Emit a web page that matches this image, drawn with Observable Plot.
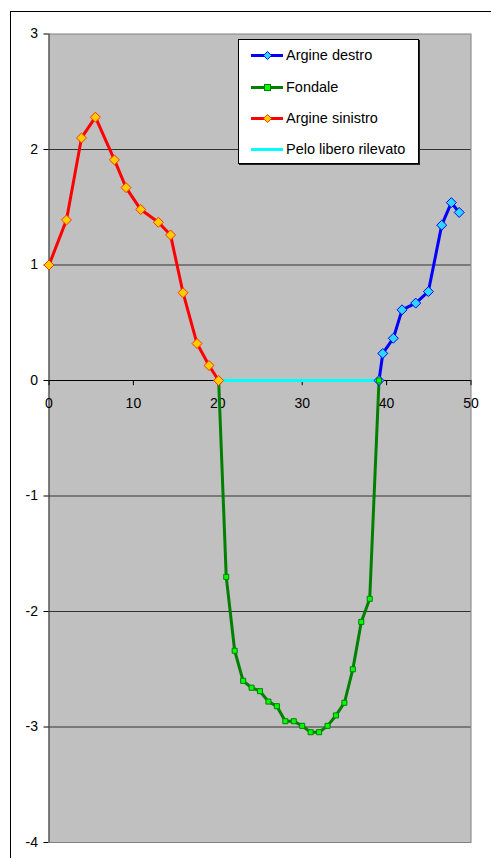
<!DOCTYPE html>
<html>
<head>
<meta charset="utf-8">
<script src="https://cdn.jsdelivr.net/npm/d3@7"></script>
<script src="https://cdn.jsdelivr.net/npm/@observablehq/plot@0.6"></script>
<style>
  html, body { margin: 0; padding: 0; background: #fff; }
  #wrap { position: relative; width: 491px; height: 858px; overflow: hidden; font-family: "Liberation Sans", Arial, sans-serif; }
  #outer { position: absolute; left: 10px; top: 11px; width: 500px; height: 900px; border-left: 1.5px solid #000; border-top: 1.5px solid #000; box-sizing: border-box; pointer-events: none; }
  #chart { position: absolute; left: 0; top: 0; }
  #legend { position: absolute; left: 238px; top: 39px; width: 181px; height: 125px; background: #fff; border: 1px solid #000; box-shadow: 1px 1px 0 #222; box-sizing: border-box; font-size: 14.5px; color: #000; }
  .row { position: absolute; left: 12px; height: 20px; display: flex; align-items: center; white-space: nowrap; }
  .row svg { margin-right: 2px; }
</style>
</head>
<body>
<div id="wrap">
  <div id="outer"></div>
  <div id="chart"></div>
  <div id="legend"></div>
</div>
<script>
// Argine sinistro
const sinX = [0, 2.07, 3.85, 5.5, 7.75, 9.13, 10.87, 12.96, 14.4, 15.88, 17.54, 18.96, 20.1];
const sinY = [1.0, 1.39, 2.10, 2.28, 1.91, 1.67, 1.48, 1.37, 1.26, 0.76, 0.32, 0.13, 0];
// Fondale
const fonX = [20.1, 21, 22, 23, 24, 25, 26, 27, 28, 29, 30, 31, 32, 33, 34, 35, 36, 37, 38, 39.1];
const fonY = [0, -1.70, -2.34, -2.60, -2.66, -2.69, -2.78, -2.82, -2.95, -2.95, -2.99, -3.045, -3.045, -2.99, -2.90, -2.79, -2.50, -2.09, -1.89, 0];
// Argine destro
const desX = [39.1, 39.55, 40.8, 41.83, 43.45, 44.95, 46.53, 47.67, 48.6];
const desY = [0, 0.234, 0.366, 0.612, 0.67, 0.77, 1.345, 1.54, 1.455];
// Pelo libero rilevato
const peloX = [20.1, 39.1];
const peloY = [0, 0];

const xTicks = [0, 10, 20, 30, 40, 50];
const yTicks = [-4, -3, -2, -1, 0, 1, 2, 3];
const seriesNames = ["Argine destro", "Fondale", "Argine sinistro", "Pelo libero rilevato"];

const zip = (xs, ys) => xs.map((x, i) => ({x, y: ys[i]}));
const sin = zip(sinX, sinY), fon = zip(fonX, fonY), des = zip(desX, desY), pelo = zip(peloX, peloY);

const plot = Plot.plot({
  width: 491,
  height: 858,
  marginLeft: 48.5,
  marginRight: 20.5,
  marginTop: 33.5,
  marginBottom: 16,
  x: {domain: [0, 50], axis: null},
  y: {domain: [-4, 3], axis: null},
  style: {fontFamily: "Liberation Sans, Arial, sans-serif", fontSize: "14px", color: "#000", background: "transparent"},
  marks: [
    Plot.frame({fill: "#c0c0c0", stroke: "#808080"}),
    Plot.ruleY(yTicks.filter(d => d !== 0 && d !== 3 && d !== -4), {y: d => d, stroke: "#333", strokeWidth: 1}),
    Plot.ruleX([0], {stroke: "#404040"}),
    Plot.axisY({ticks: yTicks, tickFormat: d => String(d), tickSize: 5, tickPadding: 6, fontSize: 14, stroke: "#000", label: null}),
    Plot.ruleY([0], {stroke: "#000", strokeWidth: 1}),
    Plot.ruleX(xTicks, {x: d => d, y1: 0, y2: -0.045, stroke: "#000"}),
    Plot.text(xTicks, {x: d => d, y: 0, dy: 23, text: d => String(d), fontSize: 14, fill: "#000"}),
    Plot.line(pelo, {x: "x", y: "y", stroke: "#00ffff", strokeWidth: 3}),
    Plot.line(des, {x: "x", y: "y", stroke: "#0000ff", strokeWidth: 3}),
    Plot.line(fon, {x: "x", y: "y", stroke: "#008000", strokeWidth: 3}),
    Plot.line(sin, {x: "x", y: "y", stroke: "#ff0000", strokeWidth: 3}),
    Plot.dot(des, {x: "x", y: "y", symbol: "diamond2", r: 4.5, fill: "#2fd6ff", stroke: "#0000ff", strokeWidth: 1}),
    Plot.dot(fon, {x: "x", y: "y", symbol: "square2", r: 3.2, fill: "#00ff00", stroke: "#008000", strokeWidth: 1}),
    Plot.dot(sin, {x: "x", y: "y", symbol: "diamond2", r: 4.5, fill: "#ffcc00", stroke: "#ff3300", strokeWidth: 1})
  ]
});
document.getElementById("chart").appendChild(plot);

// Legend
const legendStyles = [
  {stroke: "#0000ff", marker: "diamond", fill: "#2fd6ff", mstroke: "#0000ff"},
  {stroke: "#008000", marker: "square", fill: "#00ff00", mstroke: "#008000"},
  {stroke: "#ff0000", marker: "diamond", fill: "#ffcc00", mstroke: "#ff3300"},
  {stroke: "#00ffff", marker: null}
];
const rowTops = [54, 86, 117, 148];
const legend = document.getElementById("legend");
seriesNames.forEach((name, i) => {
  const s = legendStyles[i];
  const row = document.createElement("div");
  row.className = "row";
  row.style.top = (rowTops[i] - 39 - 10) + "px";
  let m = "";
  if (s.marker === "diamond") m = `<path d="M16.5,5.5 L20.5,9.5 L16.5,13.5 L12.5,9.5 Z" fill="${s.fill}" stroke="${s.mstroke}" stroke-width="1"/>`;
  if (s.marker === "square") m = `<rect x="13.5" y="6.5" width="6" height="6" fill="${s.fill}" stroke="${s.mstroke}" stroke-width="1"/>`;
  row.innerHTML = `<svg width="33" height="19"><line x1="0" y1="9.5" x2="32" y2="9.5" stroke="${s.stroke}" stroke-width="3"/>${m}</svg><span>${name}</span>`;
  legend.appendChild(row);
});
</script>
</body>
</html>
